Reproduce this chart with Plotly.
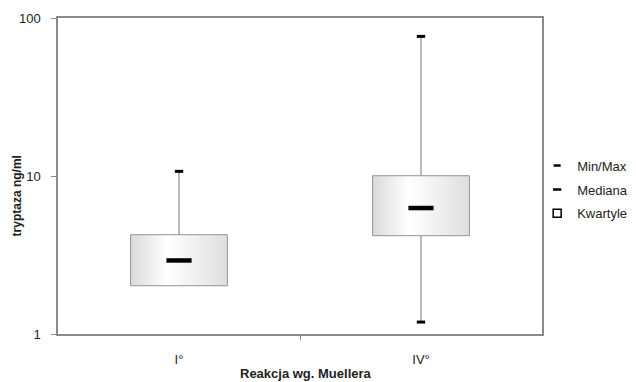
import plotly.graph_objects as go

categories = ["I°", "IV°"]
mins = [2.02, 1.19]
q1 = [2.02, 4.19]
medians = [2.92, 6.27]
q3 = [4.25, 10.04]
maxs = [10.7, 76.5]
y_ticks = [1, 10, 100]

FONT = "Liberation Sans, Arial, sans-serif"
AXIS_GRAY = "#8c8c8c"
half = 0.2
fig = go.Figure()

for i, cat in enumerate(categories):
    # whisker
    fig.add_trace(go.Scatter(x=[i, i], y=[mins[i], maxs[i]], mode="lines",
                             line=dict(color="#a3a3a3", width=1.5),
                             showlegend=False, hoverinfo="skip"))
    # box with gradient
    fig.add_trace(go.Scatter(x=[i - half, i + half, i + half, i - half, i - half],
                             y=[q1[i], q1[i], q3[i], q3[i], q1[i]],
                             mode="lines", fill="toself",
                             line=dict(color="#939393", width=1),
                             fillgradient=dict(type="horizontal",
                                               colorscale=[[0, "#dadada"], [0.38, "#ffffff"], [1, "#dedede"]]),
                             showlegend=False, hoverinfo="skip"))
    # caps (min cap only drawn when below the box)
    cap_y = [maxs[i]] + ([mins[i]] if mins[i] < q1[i] else [])
    fig.add_trace(go.Scatter(x=[i] * len(cap_y), y=cap_y, mode="markers",
                             marker=dict(symbol="line-ew", size=6, line=dict(color="black", width=3)),
                             showlegend=False, hoverinfo="skip"))
    # median
    fig.add_trace(go.Scatter(x=[i], y=[medians[i]], mode="markers",
                             marker=dict(symbol="line-ew", size=18, line=dict(color="black", width=4.5)),
                             showlegend=False, hoverinfo="skip"))

# legend-only entries
fig.add_trace(go.Scatter(x=[None], y=[None], mode="markers", name="Min/Max", legendgroup="a",
                         marker=dict(symbol="line-ew", size=5, line=dict(color="black", width=2.5))))
fig.add_trace(go.Scatter(x=[None], y=[None], mode="markers", name="Mediana", legendgroup="b",
                         marker=dict(symbol="line-ew", size=6, line=dict(color="black", width=2.5))))
fig.add_trace(go.Scatter(x=[None], y=[None], mode="markers", name="Kwartyle", legendgroup="c",
                         marker=dict(symbol="square-open", size=8, color="black", line=dict(width=1.5))))

fig.update_layout(
    width=636, height=382,
    margin=dict(l=58, r=94, t=18, b=48, autoexpand=False),
    paper_bgcolor="white", plot_bgcolor="white",
    font=dict(family=FONT, size=13, color="#222"),
    legend=dict(x=0.99, y=0.457, xanchor="left", yanchor="middle",
                font=dict(size=13, color="#222"), itemwidth=30, tracegroupgap=4,
                traceorder="grouped", bgcolor="rgba(0,0,0,0)"),
    annotations=[
        dict(text="<b>tryptaza ng/ml</b>", textangle=-90, xref="paper", yref="paper",
             x=0, y=0.437, xanchor="center", yanchor="middle", xshift=-41.5,
             showarrow=False, font=dict(size=12, color="#222")),
        dict(text="<b>Reakcja wg. Muellera</b>", xref="paper", yref="paper",
             x=0.512, y=0, xanchor="center", yanchor="middle", yshift=-39,
             showarrow=False, font=dict(size=13, color="#222")),
    ],
)
fig.update_xaxes(range=[-0.5, 1.5], tickmode="array", tickvals=[0, 1], ticktext=categories,
                 ticks="", showline=True, linecolor=AXIS_GRAY, linewidth=1.5, mirror=True,
                 showgrid=False, zeroline=False, ticklabelstandoff=13, automargin=False,
                 minor=dict(tickmode="array", tickvals=[0.5], ticks="outside", ticklen=4,
                            tickcolor=AXIS_GRAY, tickwidth=1, showgrid=False))
fig.update_yaxes(type="log", range=[0, 2], tickmode="array", tickvals=y_ticks,
                 ticktext=[str(v) for v in y_ticks], ticks="outside", ticklen=5,
                 tickcolor=AXIS_GRAY, showline=True, linecolor=AXIS_GRAY, linewidth=1.5,
                 mirror=True, showgrid=False, zeroline=False, ticklabelstandoff=8,
                 automargin=False)

fig.write_html("out.html", config={"displayModeBar": False},
               post_script="document.body.style.margin='0';document.body.style.overflow='hidden';")
